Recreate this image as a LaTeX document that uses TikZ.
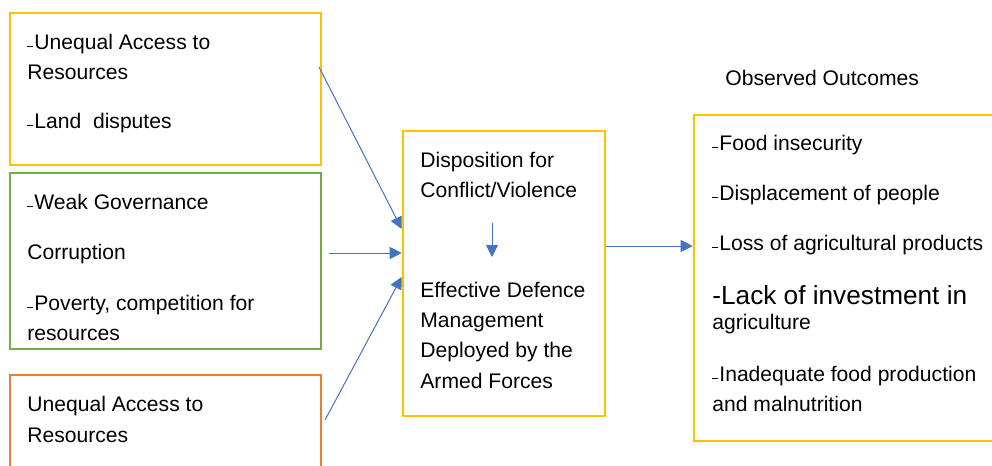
\documentclass[tikz,border=0pt]{standalone}
\usepackage{fontspec}
\setmainfont{Liberation Sans}
\usetikzlibrary{arrows.meta}

\definecolor{boxyellow}{HTML}{FFC000}
\definecolor{boxgreen}{HTML}{70AD47}
\definecolor{boxorange}{HTML}{ED7D31}
\definecolor{flowblue}{HTML}{4472C4}

% small dash in front of an item
\newcommand{\itemdash}{\rule[0.8pt]{3pt}{0.75pt}\kern0.5pt}

\begin{document}
\begin{tikzpicture}[x=0.5pt,y=-0.5pt,
        box/.style={draw=#1,line width=1.3pt,inner sep=0pt,fill=none},
        txt/.style={anchor=base west,inner sep=0pt,font=\fontsize{10.55}{12}\selectfont},
        bigtxt/.style={anchor=base west,inner sep=0pt,font=\fontsize{13.1}{15}\selectfont},
        flow/.style={draw=flowblue,line width=0.5pt,-{Triangle[length=6pt,width=6pt]}}]
        \clip (0,0) rectangle (992,466);
        \fill[white] (0,0) rectangle (992,466);

        % Ursachen
        \node[box=boxyellow,minimum width=155.5pt,minimum height=76pt] (cause1) at (165.5,89) {};
        \node[box=boxgreen,minimum width=155.5pt,minimum height=88pt] (cause2) at (165.5,261) {};
        \node[box=boxorange,minimum width=155.5pt,minimum height=72.5pt] (cause3) at (165.5,447.5) {};

        \node[txt] (c1a) at (27,49) {\itemdash Unequal Access to};
        \node[txt] (c1b) at (27,79) {Resources};
        \node[txt] (c1c) at (27,128) {\itemdash Land\ \ disputes};

        \node[txt] (c2a) at (27,209) {\itemdash Weak Governance};
        \node[txt] (c2b) at (27,259) {Corruption};
        \node[txt] (c2c) at (27,310) {\itemdash Poverty, competition for};
        \node[txt] (c2d) at (27,340) {resources};

        \node[txt] (c3a) at (27,411) {Unequal Access to};
        \node[txt] (c3b) at (27,442) {Resources};

        % Mitte
        \node[box=boxyellow,minimum width=101pt,minimum height=142.5pt] (disp) at (504,273.5) {};
        \node[txt] (d1) at (420,167) {Disposition for};
        \node[txt] (d2) at (420,197) {Conflict/Violence};
        \node[txt] (d3) at (420,297) {Effective Defence};
        \node[txt] (d4) at (420,327) {Management};
        \node[txt] (d5) at (420,357) {Deployed by the};
        \node[txt] (d6) at (420,388) {Armed Forces};
        \coordinate (dtop) at (492,223);
        \coordinate (dbot) at (492,257);
        \draw[flow] (dtop) -- (dbot);

        % Ergebnisse
        \node[txt] (otitle) at (725,85) {Observed Outcomes};
        \node[box=boxyellow,minimum width=153pt,minimum height=163pt] (outc) at (847,278) {};
        \node[txt] (o1) at (712,150) {\itemdash Food insecurity};
        \node[txt] (o2) at (712,200) {\itemdash Displacement of people};
        \node[txt] (o3) at (712,250) {\itemdash Loss of agricultural products};
        \node[bigtxt] (o4) at (712,304) {-Lack of investment in};
        \node[txt] (o5) at (712,329) {agriculture};
        \node[txt] (o6) at (712,381) {\itemdash Inadequate food production};
        \node[txt] (o7) at (712,411) {and malnutrition};

        % Pfeile
        \coordinate (s1) at (319,67);
        \coordinate (s2) at (329,253);
        \coordinate (s3) at (325,420);
        \draw[flow] (s1) -- (disp.west |- 0,229);
        \draw[flow] (s2) -- (disp.west |- 0,253);
        \draw[flow] (s3) -- (disp.west |- 0,277);
        \draw[flow] (disp.east |- 0,246) -- (outc.west |- 0,246);
    \end{tikzpicture}
\end{document}
